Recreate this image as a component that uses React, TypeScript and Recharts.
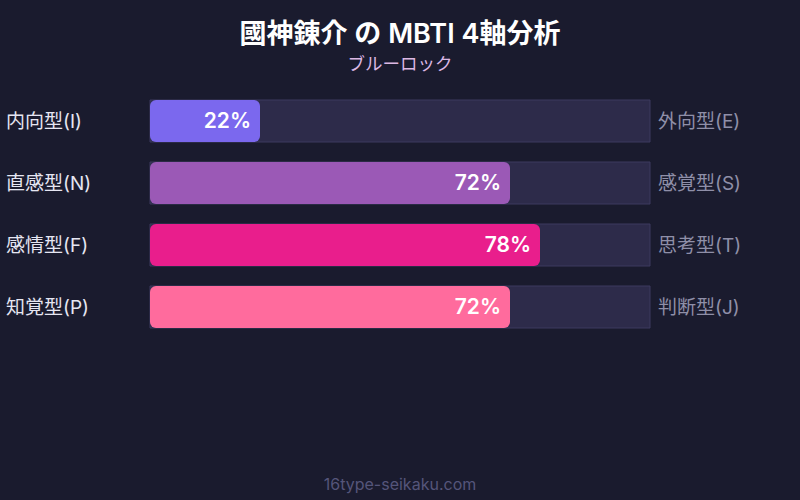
import { BarChart, Bar, XAxis, YAxis, Cell, LabelList } from 'recharts';

const leftLabels = ['内向型(I)', '直感型(N)', '感情型(F)', '知覚型(P)'];
const rightLabels = ['外向型(E)', '感覚型(S)', '思考型(T)', '判断型(J)'];
const scores = [22, 72, 78, 72];
const barColors = ['#7b68ee', '#9b59b6', '#e91e8c', '#ff6b9d'];

const FONT = "Inter, 'Noto Sans CJK JP', 'Noto Sans', sans-serif";

const data = leftLabels.map((name, i) => ({
    name,
    right: rightLabels[i],
    value: scores[i],
}));

// draws the left label and the opposite-side label for each row
function AxisTick(props: any) {
    const { y, payload, index } = props;
    return (
        <g>
            <text x={6} y={y} dy={7} fill="#e6e6f2" fontSize={19} fontFamily={FONT} textAnchor="start">
                {payload.value}
            </text>
            <text x={658} y={y} dy={7} fill="#8f8fa8" fontSize={19} fontFamily={FONT} textAnchor="start">
                {rightLabels[index]}
            </text>
        </g>
    );
}

export default function App() {
    return (
        <div style={{ position: 'absolute', top: 0, left: 0, width: 800, height: 500, background: '#1a1b2e', fontFamily: FONT }}>
            <div style={{ position: 'absolute', top: 15, width: 800, textAlign: 'center', color: '#ffffff', fontSize: 27, fontWeight: 600, lineHeight: '38px' }}>
                國神錬介 の MBTI 4軸分析
            </div>
            <div style={{ position: 'absolute', top: 52, width: 800, textAlign: 'center', color: '#dcb8e4', fontSize: 17.5, lineHeight: '24px' }}>
                ブルーロック
            </div>
            <div style={{ position: 'absolute', top: 0, left: 0 }}>
                <BarChart
                    width={800}
                    height={500}
                    data={data}
                    layout="vertical"
                    margin={{ top: 90, right: 150, bottom: 162, left: 0 }}
                >
                    <XAxis type="number" domain={[0, 100]} hide />
                    <YAxis type="category" dataKey="name" width={150} axisLine={false} tickLine={false} tick={<AxisTick />} />
                    <Bar
                        dataKey="value"
                        barSize={42}
                        radius={6}
                        isAnimationActive={false}
                        background={{ fill: '#2d2b4a', stroke: '#3c3a5e', strokeWidth: 1, radius: 0 }}
                    >
                        {data.map((d, i) => (
                            <Cell key={`cell-${i}`} fill={barColors[i]} />
                        ))}
                        <LabelList
                            dataKey="value"
                            position="insideRight"
                            offset={9}
                            formatter={(v: any) => `${v}%`}
                            fill="#ffffff"
                            fontSize={21}
                            fontWeight={600}
                            fontFamily={FONT}
                        />
                    </Bar>
                </BarChart>
            </div>
            <div style={{ position: 'absolute', top: 473, width: 800, textAlign: 'center', color: '#55557a', fontSize: 16, lineHeight: '22px' }}>
                16type-seikaku.com
            </div>
        </div>
    );
}
